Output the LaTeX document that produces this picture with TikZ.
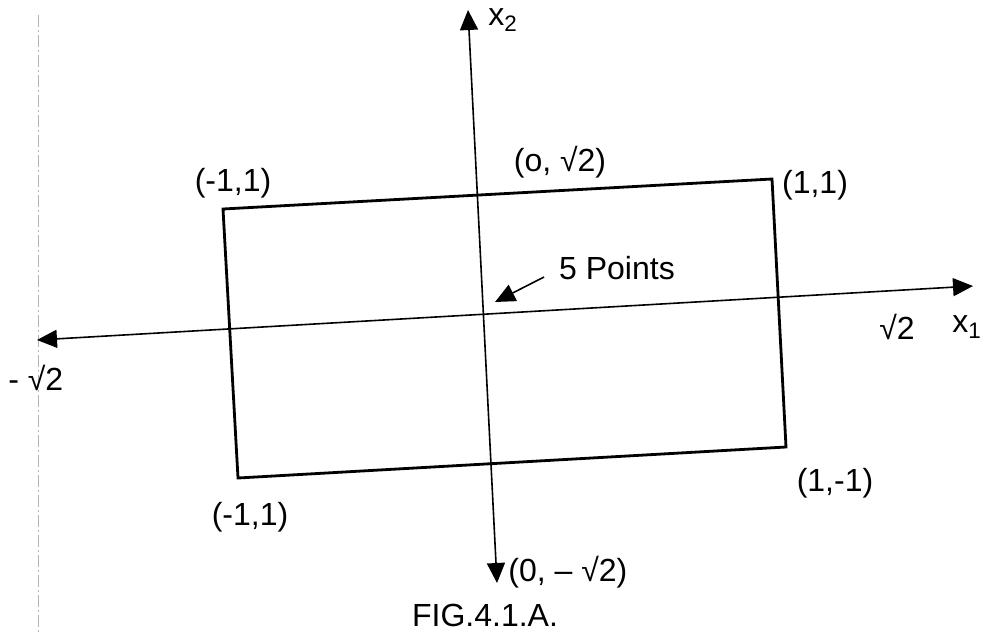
\documentclass[tikz,border=0pt]{standalone}
\usepackage{fontspec}
\setmainfont{Liberation Sans}
\usetikzlibrary{arrows.meta}

\begin{document}
\begin{tikzpicture}[x=0.5pt,y=-0.5pt,
  lbl/.style={font=\fontsize{16}{19}\selectfont,inner sep=0pt},
  axis/.style={line width=0.8pt,{Triangle[length=10pt,width=9pt]}-{Triangle[length=10pt,width=9pt]}},
  ptr/.style={line width=0.8pt,-{Triangle[length=10pt,width=9pt]}}]
  \useasboundingbox (0,0) rectangle (984,633);
  % page edge left by the scan
  \draw[gray!60,line width=0.4pt,dash pattern=on 6pt off 1.5pt on 1pt off 1.5pt] (38,15) -- (38,633);
  % axes
  \coordinate (top) at (468,10);
  \coordinate (bot) at (497,583);
  \coordinate (rgt) at (973,286);
  \coordinate (lft) at (37,340);
  \draw[axis] (bot) -- (top);
  \draw[axis] (lft) -- (rgt);
  % the square, turned
  \coordinate (tl) at (223,209);
  \coordinate (tr) at (772,179);
  \coordinate (br) at (786,447);
  \coordinate (bl) at (238,478);
  \draw[line width=1.4pt,line join=miter] (tl) -- (tr) -- (br) -- (bl) -- cycle;
  % labels
  \node[lbl,anchor=west] (xtwo) at (488,20) {x\textsubscript{2}};
  \node[lbl,anchor=west] (xone) at (952,327) {x\textsubscript{1}};
  \node[lbl] (rtwo) at (897,327) {√2};
  \node[lbl,anchor=west] (mtwo) at (8,378) {- √2};
  \node[lbl] (ltl) at (233,183) {(-1,1)};
  \node[lbl] (ltop) at (560,162) {(o, √2)};
  \node[lbl] (ltr) at (815,185) {(1,1)};
  \node[lbl] (lbl1) at (250,517) {(-1,1)};
  \node[lbl] (lbr) at (835,483) {(1,-1)};
  \node[lbl,anchor=west] (lbot) at (508,572) {(0, – √2)};
  \node[lbl] (fig) at (485,615) {FIG.4.1.A.};
  % the five points meet in the middle
  \node[lbl] (pts) at (617,268) {5 Points};
  \coordinate (ptail) at (544,277);
  \coordinate (ctr) at (495,302);
  \draw[ptr] (ptail) -- (ctr);
\end{tikzpicture}
\end{document}
